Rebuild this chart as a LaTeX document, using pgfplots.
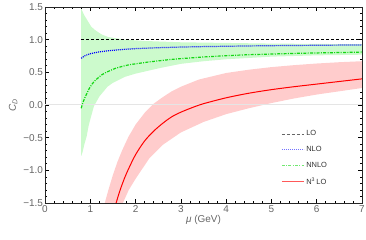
\documentclass[border=0pt]{standalone}
\usepackage{pgfplots}
\pgfplotsset{compat=1.18}
\usepackage{fontspec}
\setmainfont{Liberation Sans}
\definecolor{bandgreen}{RGB}{204,250,204}
\definecolor{bandred}{RGB}{255,204,204}
\definecolor{lgreen}{RGB}{20,215,20}
\newcommand{\lt}[1]{\textcolor{black!80}{#1}}
\begin{document}
\begin{tikzpicture}
\useasboundingbox (-45bp,-37bp) rectangle (321bp,203bp);
\begin{axis}[
  at={(0,0)}, anchor=south west,
  scale only axis, width=317bp, height=196bp,
  xmin=0, xmax=7, ymin=-1.5, ymax=1.5,
  xtick={0,1,2,3,4,5,6,7},
  xticklabels={0,1,2,3,4,5,6,7},
  ytick={-1.5,-1,-0.5,0,0.5,1,1.5},
  yticklabels={−1.5,−1.0,−0.5,0.0,0.5,1.0,1.5},
  minor x tick num=4, minor y tick num=4,
  major tick length=4bp, minor tick length=2bp,
  tick style={black, line width=0.6bp},
  axis line style={black!85, line width=0.9bp},
  tick label style={font=\fontsize{10}{11}\selectfont, text=black!60},
  xticklabel style={yshift=1bp},
  yticklabel style={xshift=1.5bp},
  xlabel={\textit{μ} (GeV)},
  ylabel={\textit{C}\textsubscript{\textit{D}}},
  label style={font=\fontsize{10}{11}\selectfont, text=black!60},
  xlabel style={yshift=4bp},
  ylabel style={yshift=-1bp},
  legend cell align=left,
  legend style={at={(axis cs:5.15,-0.33)}, anchor=north west, draw=none, fill=none,
    font=\fontsize{7.5}{8.5}\selectfont, row sep=5bp},
]
% green band
\addplot[draw=none, fill=bandgreen, forget plot] coordinates {
(0.8,1.47) (0.83,1.43) (0.87,1.37) (0.95,1.28) (1.02,1.2) (1.1,1.15) (1.25,1.08) (1.4,1.04) (1.77,1.0) (2.2,0.98) (3,0.96) (4,0.95) (5,0.94) (7,0.93)
(7,0.77) (6,0.76) (5,0.74) (4,0.70) (3.5,0.67) (3.0,0.63) (2.5,0.56) (2.0,0.48) (1.76,0.43) (1.5,0.34) (1.38,0.28) (1.2,0.13) (1.08,-0.02) (1.0,-0.22) (0.96,-0.33) (0.92,-0.48) (0.87,-0.6) (0.83,-0.72) (0.8,-0.78)
};
% red band
\addplot[draw=none, fill=bandred, forget plot] coordinates {
(1.27,-1.65) (1.32,-1.5) (1.4,-1.3) (1.5,-1.07) (1.6,-0.87) (1.7,-0.7) (1.84,-0.49) (2.0,-0.3) (2.2,-0.12) (2.4,0.02) (2.6,0.12) (2.8,0.21) (3.0,0.28) (3.4,0.39) (4,0.49) (4.5,0.54) (5,0.58) (5.5,0.61) (6,0.635) (6.5,0.655) (7,0.67)
(7,0.26) (6.5,0.21) (6,0.16) (5.5,0.10) (5,0.03) (4.5,-0.05) (4,-0.14) (3.5,-0.26) (3.0,-0.42) (2.6,-0.61) (2.3,-0.82) (2.0,-1.13) (1.85,-1.3) (1.72,-1.5) (1.66,-1.65)
};
% zero line
\addplot[black!10, line width=1bp, forget plot] coordinates {(0,0) (7,0)};
% LO
\addplot[black, line width=1bp, dash pattern=on 3bp off 2bp,
  legend image code/.code={\draw[black!60, line width=0.9bp, dash pattern=on 3bp off 2bp] (0bp,0bp) -- (22bp,0bp);}]
  coordinates {(0.8,1) (7,1)};
\addlegendentry{\lt{LO}}
% NLO
\addplot[color=blue, line width=1.2bp, dash pattern=on 1bp off 1bp,
  legend image code/.code={\draw[blue!55, line width=0.9bp, dash pattern=on 1bp off 1bp] (0bp,0bp) -- (22bp,0bp);}]
  coordinates {
(0.8,0.715) (0.85,0.74) (0.9,0.76) (1.0,0.785) (1.1,0.80) (1.2,0.813) (1.35,0.827) (1.55,0.84) (1.8,0.855) (2,0.863) (2.5,0.877) (3,0.887) (3.5,0.894) (4,0.899) (4.5,0.904) (5,0.908) (5.5,0.911) (6,0.914) (6.5,0.917) (7,0.92)
};
\addlegendentry{\lt{NLO}}
% NNLO
\addplot[color=lgreen, line width=1.2bp, dash pattern=on 3bp off 1.3bp on 1bp off 1.3bp,
  legend image code/.code={\draw[lgreen!60, line width=0.9bp, dash pattern=on 3bp off 1.3bp on 1bp off 1.3bp] (0bp,0bp) -- (22bp,0bp);}]
  coordinates {
(0.8,-0.05) (0.82,0.0) (0.85,0.06) (0.88,0.11) (0.92,0.17) (0.96,0.23) (1.0,0.28) (1.05,0.33) (1.1,0.37) (1.18,0.42) (1.25,0.46) (1.35,0.50) (1.45,0.53) (1.55,0.56) (1.7,0.59) (1.85,0.615) (2.0,0.63) (2.25,0.655) (2.5,0.675) (2.75,0.695) (3.0,0.71) (3.5,0.735) (4,0.755) (4.5,0.77) (5,0.78) (5.5,0.79) (6,0.797) (6.5,0.803) (7,0.81)
};
\addlegendentry{\lt{NNLO}}
% N3LO
\addplot[color=red, line width=1bp, smooth,
  legend image code/.code={\draw[red!65, line width=0.9bp] (0bp,0bp) -- (22bp,0bp);}]
  coordinates {
(1.52,-1.6) (1.57,-1.5) (1.65,-1.32) (1.75,-1.13) (1.85,-0.97) (2.0,-0.76) (2.2,-0.55) (2.4,-0.40) (2.6,-0.28) (2.8,-0.18) (3.0,-0.11) (3.25,-0.04) (3.5,0.02) (4,0.11) (4.5,0.18) (5,0.235) (5.5,0.28) (6,0.32) (6.5,0.36) (7,0.40)
};
\addlegendentry{\lt{N\textsuperscript{3}\,LO}}
\end{axis}
\end{tikzpicture}
\end{document}
